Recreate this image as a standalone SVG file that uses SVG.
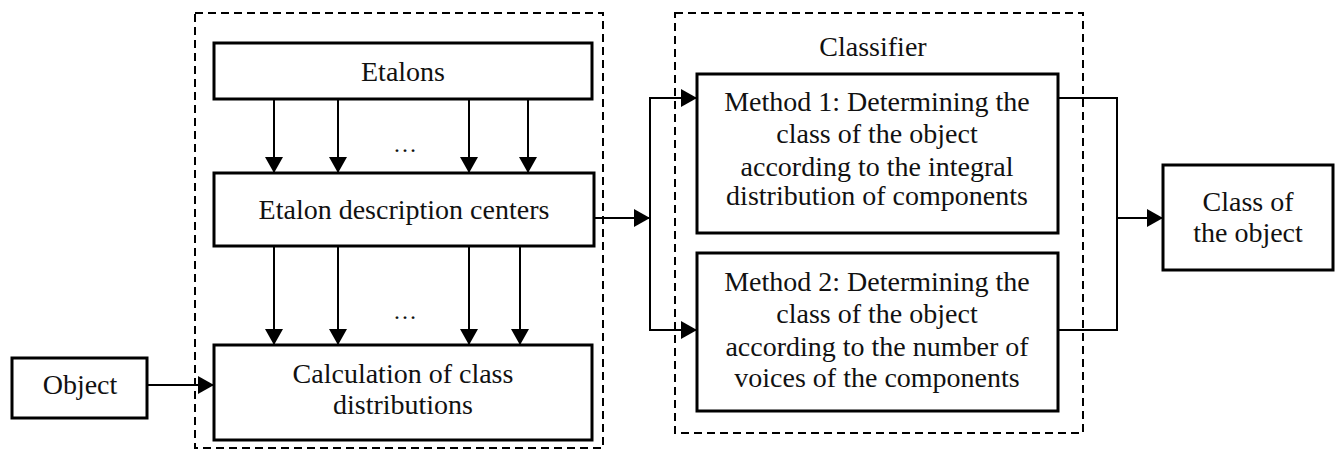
<svg xmlns="http://www.w3.org/2000/svg" width="1339" height="451" viewBox="0 0 1339 451">
<defs>
<style>
.box{fill:#fff;stroke:#000;stroke-width:3}
.dash{fill:none;stroke:#000;stroke-width:2;stroke-dasharray:8,5}
.ln{fill:none;stroke:#000;stroke-width:2}
text{font-family:"Liberation Serif","Times New Roman",serif;font-size:28px;fill:#111;text-anchor:middle}
</style>
<marker id="ah" viewBox="0 0 16 18" refX="16" refY="9" markerWidth="16" markerHeight="18" markerUnits="userSpaceOnUse" orient="auto">
<path d="M0,0 L16,9 L0,18 Z" fill="#000"/>
</marker>
</defs>
<rect width="1339" height="451" fill="#fff"/>
<g id="group-left"><rect class="dash" x="195" y="13" width="408" height="435"/></g>
<g id="group-classifier"><rect class="dash" x="675" y="13" width="408" height="420"/><text x="873" y="56">Classifier</text></g>
<g id="etalons"><rect class="box" x="214" y="43" width="378" height="56"/><text x="403" y="81">Etalons</text></g>
<g id="centers"><rect class="box" x="214" y="173" width="380" height="73"/><text x="404" y="219">Etalon description centers</text></g>
<g id="calc"><rect class="box" x="214" y="345" width="378" height="95"/><text x="403" y="383">Calculation of class</text><text x="403" y="414">distributions</text></g>
<g id="object"><rect class="box" x="12" y="358" width="135" height="60"/><text x="80" y="394">Object</text></g>
<g id="method1"><rect class="box" x="697" y="74" width="361" height="159"/><text x="877" y="111">Method 1: Determining the</text><text x="877" y="143">class of the object</text><text x="877" y="176">according to the integral</text><text x="877" y="205">distribution of components</text></g>
<g id="method2"><rect class="box" x="697" y="253" width="361" height="158"/><text x="877" y="291">Method 2: Determining the</text><text x="877" y="323">class of the object</text><text x="877" y="356">according to the number of</text><text x="877" y="387">voices of the components</text></g>
<g id="result"><rect class="box" x="1163" y="165" width="170" height="105"/><text x="1248" y="211">Class of</text><text x="1248" y="242">the object</text></g>
<g id="connectors">
<line class="ln" x1="274" y1="100" x2="274" y2="173" marker-end="url(#ah)"/>
<line class="ln" x1="338" y1="100" x2="338" y2="173" marker-end="url(#ah)"/>
<line class="ln" x1="469" y1="100" x2="469" y2="173" marker-end="url(#ah)"/>
<line class="ln" x1="528" y1="100" x2="528" y2="173" marker-end="url(#ah)"/>
<text x="405" y="152" style="font-size:24px">…</text>
<line class="ln" x1="274" y1="247" x2="274" y2="345" marker-end="url(#ah)"/>
<line class="ln" x1="338" y1="247" x2="338" y2="345" marker-end="url(#ah)"/>
<line class="ln" x1="469" y1="247" x2="469" y2="345" marker-end="url(#ah)"/>
<line class="ln" x1="520" y1="247" x2="520" y2="345" marker-end="url(#ah)"/>
<text x="405" y="319" style="font-size:24px">…</text>
<line class="ln" x1="147" y1="385" x2="214" y2="385" marker-end="url(#ah)"/>
<line class="ln" x1="594" y1="218" x2="650" y2="218" marker-end="url(#ah)"/>
<polyline class="ln" points="697,98 650,98 650,330 697,330"/>
<line class="ln" x1="650" y1="98" x2="697" y2="98" marker-end="url(#ah)"/>
<line class="ln" x1="650" y1="330" x2="697" y2="330" marker-end="url(#ah)"/>
<polyline class="ln" points="1058,98 1117,98 1117,330 1058,330"/>
<line class="ln" x1="1117" y1="218" x2="1163" y2="218" marker-end="url(#ah)"/>
</g>
</svg>
